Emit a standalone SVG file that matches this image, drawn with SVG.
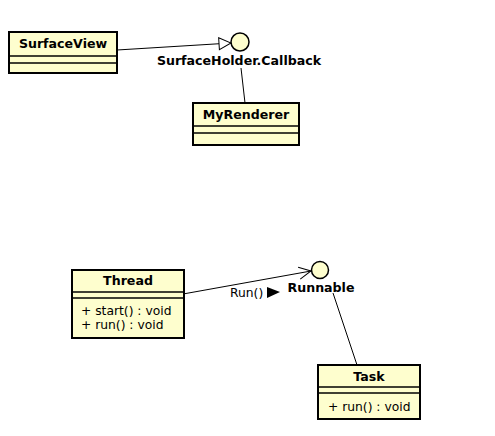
<svg xmlns="http://www.w3.org/2000/svg" width="495" height="436" viewBox="0 0 495 436">
  <style>
    .box { fill: #FEFECE; stroke: #000; stroke-width: 2; }
    .sep { stroke: #000; stroke-width: 1.5; }
    .iface { fill: #FEFECE; stroke: #000; stroke-width: 1.5; }
    .title { font-family: "DejaVu Sans", sans-serif; font-size: 12.6px; font-weight: bold; text-anchor: middle; fill: #000; }
    .member { font-family: "DejaVu Sans", sans-serif; font-size: 12.3px; fill: #000; }
    .conn { stroke: #000; stroke-width: 1; fill: none; }
  </style>
  <defs>
    <marker id="realize" viewBox="0 0 14 14" refX="13" refY="7" markerWidth="14" markerHeight="14" markerUnits="userSpaceOnUse" orient="auto">
      <path d="M1,1 L13,7 L1,13 Z" fill="#fff" stroke="#000" stroke-width="1"/>
    </marker>
    <marker id="open" viewBox="0 0 14 14" refX="13" refY="7" markerWidth="14" markerHeight="14" markerUnits="userSpaceOnUse" orient="auto">
      <path d="M1,1 L13,7 L1,13" fill="none" stroke="#000" stroke-width="1"/>
    </marker>
  </defs>

  <g id="connectors">
    <line class="conn" x1="117" y1="50" x2="231" y2="43" marker-end="url(#realize)"/>
    <line class="conn" x1="241" y1="68" x2="245" y2="103"/>
    <line class="conn" x1="183" y1="294" x2="311" y2="271" marker-end="url(#open)"/>
    <text class="member" x="230" y="297">Run()</text>
    <path d="M267,287 L280,292 L267,298 Z" fill="#000"/>
    <line class="conn" x1="333" y1="293" x2="357" y2="365"/>
  </g>

  <g id="SurfaceView">
    <rect class="box" x="9" y="32" width="108" height="41"/>
    <line class="sep" x1="9" y1="56" x2="117" y2="56"/>
    <line class="sep" x1="9" y1="63" x2="117" y2="63"/>
    <text class="title" x="63" y="48">SurfaceView</text>
  </g>

  <g id="SurfaceHolderCallback">
    <circle class="iface" cx="240" cy="42" r="9"/>
    <text class="title" x="239" y="65">SurfaceHolder.Callback</text>
  </g>

  <g id="MyRenderer">
    <rect class="box" x="193" y="103" width="106" height="42"/>
    <line class="sep" x1="193" y1="126" x2="299" y2="126"/>
    <line class="sep" x1="193" y1="133" x2="299" y2="133"/>
    <text class="title" x="246" y="119">MyRenderer</text>
  </g>

  <g id="Thread">
    <rect class="box" x="72" y="270" width="112" height="68"/>
    <line class="sep" x1="72" y1="292" x2="184" y2="292"/>
    <line class="sep" x1="72" y1="298" x2="184" y2="298"/>
    <text class="title" x="128" y="285">Thread</text>
    <text class="member" x="81" y="315">+ start() : void</text>
    <text class="member" x="81" y="329">+ run() : void</text>
  </g>

  <g id="Runnable">
    <circle class="iface" cx="320" cy="270" r="8.5"/>
    <text class="title" x="321" y="292">Runnable</text>
  </g>

  <g id="Task">
    <rect class="box" x="318" y="365" width="102" height="54"/>
    <line class="sep" x1="318" y1="387" x2="420" y2="387"/>
    <line class="sep" x1="318" y1="393" x2="420" y2="393"/>
    <text class="title" x="369" y="381">Task</text>
    <text class="member" x="328" y="411">+ run() : void</text>
  </g>
</svg>
